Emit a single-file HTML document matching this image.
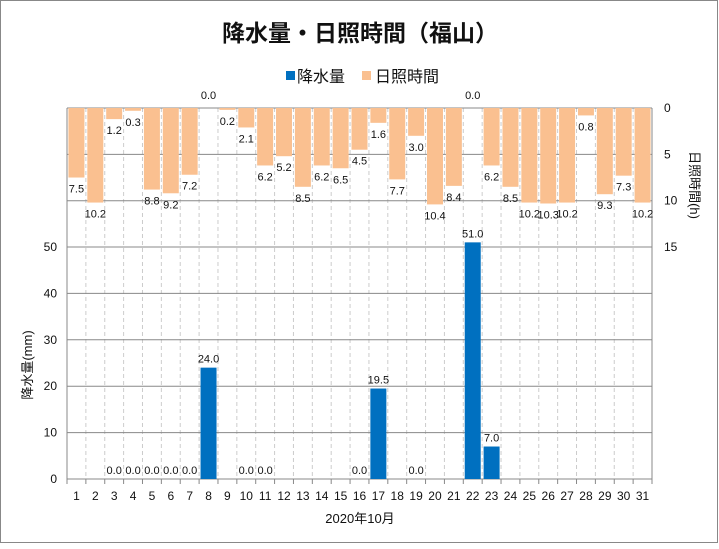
<!DOCTYPE html>
<html><head><meta charset="utf-8"><style>
body{margin:0;background:#fff}
svg text{font-family:"Liberation Sans","Noto Sans CJK JP",sans-serif}
</style></head><body>
<svg width="719" height="544" viewBox="0 0 719 544" xmlns="http://www.w3.org/2000/svg">
<rect x="0.5" y="0.5" width="717" height="542" fill="#fff" stroke="#888"/>
<text x="360" y="41" text-anchor="middle" font-size="23" font-weight="bold" fill="#111">降水量・日照時間（福山）</text>
<rect x="286" y="71" width="9" height="9" fill="#0070c0"/>
<text x="297" y="82" font-size="16" fill="#111">降水量</text>
<rect x="362" y="71" width="9" height="9" fill="#fac090"/>
<text x="375" y="82" font-size="16" fill="#111">日照時間</text>
<g id="g"></g>
<text transform="translate(32,365) rotate(-90)" text-anchor="middle" font-size="13" fill="#111">降水量(mm)</text>
<text transform="translate(690,185) rotate(90)" text-anchor="middle" font-size="13" fill="#111">日照時間(h)</text>
<text x="360" y="523" text-anchor="middle" font-size="13" fill="#111">2020年10月</text>
</svg>
<script>
const L=67,R=652,T=108,B=479,W=(R-L)/31;
const sun=[7.5,10.2,1.2,0.3,8.8,9.2,7.2,0.0,0.2,2.1,6.2,5.2,8.5,6.2,6.5,4.5,1.6,7.7,3.0,10.4,8.4,0.0,6.2,8.5,10.2,10.3,10.2,0.8,9.3,7.3,10.2];
const rain={3:0,4:0,5:0,6:0,7:0,8:24,10:0,11:0,16:0,17:19.5,19:0,22:51,23:7};
const ry=v=>B-v*4.64, sy=v=>T+v*9.27;
let s='';
for(let i=1;i<31;i++){const x=L+i*W;s+=`<line x1="${x}" y1="${T}" x2="${x}" y2="${B}" stroke="#ccc" stroke-dasharray="4,3"/>`;}
[0,10,20,30,40,50].forEach(v=>{const y=ry(v);s+=`<line x1="${L}" y1="${y}" x2="${R}" y2="${y}" stroke="#888"/><text x="${L-10}" y="${y+4}" text-anchor="end" font-size="12" fill="#111">${v}</text>`;});
[0,5,10,15].forEach(v=>{const y=sy(v);s+=`<line x1="${L}" y1="${y}" x2="${R}" y2="${y}" stroke="#888"/><text x="${R+12}" y="${y+4}" font-size="12" fill="#111">${v}</text>`;});
s+=`<line x1="${L}" y1="${T}" x2="${L}" y2="${B}" stroke="#888"/><line x1="${R}" y1="${T}" x2="${R}" y2="${B}" stroke="#888"/>`;
for(let i=0;i<=31;i++){const x=L+i*W;s+=`<line x1="${x}" y1="${B}" x2="${x}" y2="${B+5}" stroke="#888"/>`;}
sun.forEach((v,i)=>{const c=L+(i+0.5)*W;const h=v*9.27;
 if(v>0)s+=`<rect x="${c-8}" y="${T}" width="16" height="${h}" fill="#fac090"/>`;
 const ly=v===0?T-9:T+h+15;
 s+=`<text x="${c}" y="${ly}" text-anchor="middle" font-size="11" fill="#111">${v.toFixed(1)}</text>`;
 s+=`<text x="${c}" y="${B+21}" text-anchor="middle" font-size="12" fill="#111">${i+1}</text>`;});
for(const k in rain){const v=rain[k];const c=L+(k-0.5)*W;const y=ry(v);
 if(v>0)s+=`<rect x="${c-8}" y="${y}" width="16" height="${B-y}" fill="#0070c0"/>`;
 s+=`<text x="${c}" y="${y-5}" text-anchor="middle" font-size="11" fill="#111">${v.toFixed(1)}</text>`;}
document.getElementById('g').innerHTML=s;
</script>
</body></html>
